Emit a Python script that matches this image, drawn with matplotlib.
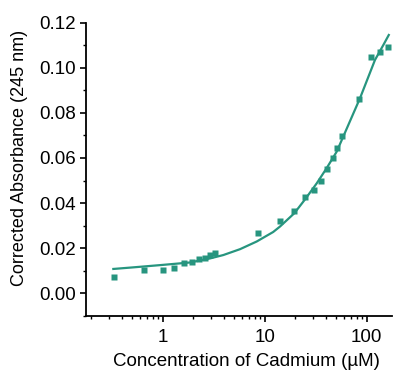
import matplotlib
matplotlib.use("Agg")
import matplotlib.pyplot as plt
from matplotlib.ticker import LogLocator, FixedLocator, MultipleLocator, FuncFormatter

plt.rcParams['font.family'] = ['Liberation Sans', 'DejaVu Sans']

# measured data (µM, corrected absorbance)
conc = [0.33, 0.66, 1.0, 1.3, 1.63, 1.95, 2.29, 2.6, 2.93, 3.26,
        8.65, 14.2, 19.5, 25.0, 30.4, 35.6, 40.5, 46.7, 51.1, 57.7,
        84.0, 111.0, 136.0, 163.0]
absorb = [0.0071, 0.0105, 0.0102, 0.0114, 0.0133, 0.0137, 0.0152, 0.0158, 0.0168, 0.0181,
          0.0266, 0.0319, 0.0367, 0.0425, 0.0460, 0.0496, 0.0549, 0.0602, 0.0646, 0.0698,
          0.0861, 0.1049, 0.1071, 0.1093]

# fitted curve
fit_x = [0.32, 0.5, 0.98, 1.85, 2.91, 3.93, 5.73, 8.35, 12.1, 14.1, 19.5, 25.0,
         32.4, 40.5, 50.8, 65.0, 86.0, 105.0, 120.5, 145.0, 166.6]
fit_y = [0.0108, 0.0115, 0.0126, 0.0137, 0.0155, 0.0170, 0.0196, 0.0230, 0.0272, 0.0296, 0.0355, 0.0418,
         0.0488, 0.0555, 0.0628, 0.0739, 0.0865, 0.0965, 0.1034, 0.1099, 0.1149]

y_ticks = [0.00, 0.02, 0.04, 0.06, 0.08, 0.10, 0.12]
x_ticks = [1, 10, 100]
x_ticklabels = ['1', '10', '100']

color = '#27957f'

fig = plt.figure(figsize=(3.93, 3.71), dpi=100)
ax = fig.add_axes([86/393, 1-316/371, (392-86)/393, (316-22.5)/371])

ax.plot(fit_x, fit_y, color=color, lw=1.6, solid_capstyle='butt')
ax.plot(conc, absorb, 's', color=color, ms=4.4, mec='none')

ax.set_xscale('log')
ax.set_xlim(0.177, 177)
ax.set_ylim(-0.01, 0.12)

ax.xaxis.set_major_locator(FixedLocator(x_ticks))
ax.xaxis.set_major_formatter(FuncFormatter(lambda v, p: x_ticklabels[x_ticks.index(v)] if v in x_ticks else ''))
ax.xaxis.set_minor_locator(LogLocator(base=10, subs=[2, 3, 4, 5, 6, 7, 8, 9]))
ax.yaxis.set_major_locator(FixedLocator(y_ticks))
ax.yaxis.set_major_formatter(FuncFormatter(lambda v, p: f'{v:.2f}'))
ax.yaxis.set_minor_locator(MultipleLocator(0.01))

for s in ['top', 'right']:
    ax.spines[s].set_visible(False)
for s in ['left', 'bottom']:
    ax.spines[s].set_linewidth(1.3)

ax.tick_params(which='major', direction='out', length=4.5, width=1.2, labelsize=13.5)
ax.tick_params(axis='x', which='major', pad=5)
ax.tick_params(axis='y', which='major', pad=2.5)
ax.tick_params(which='minor', direction='out', length=2.5, width=1.0)

ax.set_xlabel('Concentration of Cadmium (µM)', fontsize=13.5)
ax.set_ylabel('Corrected Absorbance (245 nm)', fontsize=13)
ax.xaxis.set_label_coords(0.525, -0.125, transform=ax.transAxes)
ax.yaxis.set_label_coords(-0.19, 0.537, transform=ax.transAxes)
ax.xaxis.label.set_va('top')
ax.yaxis.label.set_va('bottom')

fig.savefig('out.png', dpi=100)
